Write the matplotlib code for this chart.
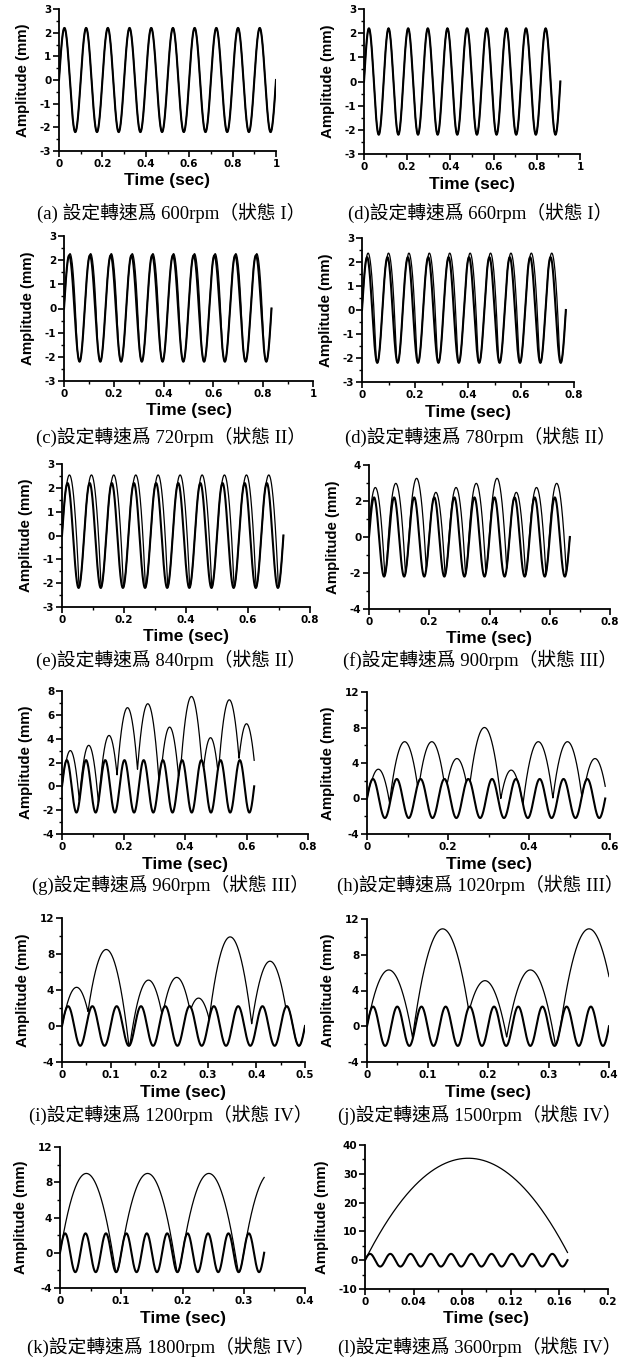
import numpy as np
import matplotlib
matplotlib.use("Agg")
import matplotlib.pyplot as plt
from matplotlib.ticker import MultipleLocator, FuncFormatter

# ---------------- data ----------------
rpm = [600, 660, 720, 780, 840, 900, 960, 1020, 1200, 1500, 1800, 3600]
letters = ["(a) ", "(d)", "(c)", "(d)", "(e)", "(f)",
           "(g)", "(h)", "(i)", "(j)", "(k)", "(l)"]
states = ["I", "I", "II", "II", "II", "III", "III", "III", "IV", "IV", "IV", "IV"]

input_amp = 2.2          # mm, amplitude of the table motion
n_cycles = 10            # cycles shown in every panel
fall_coef = 4905.0       # mm/s^2, curvature of the free-flight arcs (panel l)

# response: flight arcs, peak times (s) and peak heights (mm)
peak_t = {
    600: [], 660: [],
    720: [0.024, 0.107, 0.190, 0.274, 0.357, 0.440, 0.524, 0.607, 0.690, 0.774],
    780: [0.023, 0.100, 0.177, 0.254, 0.331, 0.408, 0.485, 0.562, 0.639, 0.716],
    840: [0.024, 0.095, 0.167, 0.238, 0.310, 0.381, 0.452, 0.524, 0.595, 0.667],
    900: [0.021, 0.089, 0.158, 0.222, 0.289, 0.356, 0.425, 0.489, 0.556, 0.623],
    960: [0.027, 0.087, 0.153, 0.213, 0.279, 0.350, 0.421, 0.483, 0.544, 0.600],
    1020: [0.028, 0.093, 0.160, 0.222, 0.290, 0.356, 0.423, 0.495, 0.563],
    1200: [0.030, 0.091, 0.178, 0.236, 0.281, 0.346, 0.428],
    1500: [0.036, 0.125, 0.195, 0.270, 0.367],
    1800: [0.043, 0.143, 0.243, 0.343],
    3600: [0.085],
}
peak_h = {
    600: [], 660: [],
    720: [2.27] * 10,
    780: [2.37] * 10,
    840: [2.54] * 10,
    900: [2.75, 2.98, 3.26, 2.48, 2.75, 2.98, 3.26, 2.48, 2.75, 2.98],
    960: [3.0, 3.44, 4.27, 6.6, 6.93, 4.97, 7.54, 4.08, 7.26, 5.25],
    1020: [3.3, 6.4, 6.4, 4.5, 8.0, 3.2, 6.4, 6.4, 4.5],
    1200: [4.3, 8.5, 5.1, 5.4, 3.1, 9.9, 7.2],
    1500: [6.3, 10.9, 5.1, 6.3, 10.9],
    1800: [9.0, 9.0, 9.0, 9.0],
    3600: [35.4],
}

x_max = [1, 1, 1, 0.8, 0.8, 0.8, 0.8, 0.6, 0.5, 0.4, 0.4, 0.2]
x_major = [0.2, 0.2, 0.2, 0.2, 0.2, 0.2, 0.2, 0.2, 0.1, 0.1, 0.1, 0.04]
y_lim = [(-3, 3), (-3, 3), (-3, 3), (-3, 3), (-3, 3), (-4, 4),
         (-4, 8), (-4, 12), (-4, 12), (-4, 12), (-4, 12), (-10, 40)]
y_major = [1, 1, 1, 1, 1, 2, 2, 4, 4, 4, 4, 10]

# ---------------- layout (pixels of the 625x1358 page) ----------------
W, H = 625, 1358
boxes = [(59, 276, 9, 151), (364, 580, 9, 154),
         (64, 313, 236, 381), (362, 574, 238, 382),
         (62, 310, 464, 607), (369, 610, 465, 609),
         (62, 308, 691, 834), (367, 610, 692, 834),
         (62, 305, 918, 1062), (367, 609, 919, 1062),
         (60, 305, 1147, 1288), (365, 608, 1145, 1289)]
caption_y = [213, 437, 660, 885, 1115, 1347]
caption_x = [171, 480]

sans = ["Liberation Sans", "DejaVu Sans"]
tick_font = ["DejaVu Sans"]
cap_font = ["Liberation Serif", "Noto Sans CJK TC", "DejaVu Sans"]

fig = plt.figure(figsize=(W / 100, H / 100), dpi=100)
fig.patch.set_facecolor("white")

fmt = FuncFormatter(lambda v, p: ("%g" % round(v, 6)))

for i, r in enumerate(rpm):
    x0, x1, y0, y1 = boxes[i]
    ax = fig.add_axes([x0 / W, 1 - y1 / H, (x1 - x0) / W, (y1 - y0) / H])
    f = r / 60.0
    t_end = n_cycles / f
    t = np.linspace(0, t_end, 4000)
    y_in = input_amp * np.sin(2 * np.pi * f * t)
    y_out = y_in.copy()
    for tp, hp in zip(peak_t[r], peak_h[r]):
        y_out = np.maximum(y_out, hp - fall_coef * (t - tp) ** 2)

    ax.plot(t, y_in, color="black", lw=1.5, solid_joinstyle="round")
    ax.plot(t, y_out, color="black", lw=0.9, solid_joinstyle="round")

    ax.set_xlim(0, x_max[i])
    ax.set_ylim(*y_lim[i])
    ax.xaxis.set_major_locator(MultipleLocator(x_major[i]))
    ax.xaxis.set_minor_locator(MultipleLocator(x_major[i] / 2))
    ax.yaxis.set_major_locator(MultipleLocator(y_major[i]))
    ax.yaxis.set_minor_locator(MultipleLocator(y_major[i] / 2))
    ax.xaxis.set_major_formatter(fmt)
    ax.yaxis.set_major_formatter(fmt)
    for s in ("top", "right"):
        ax.spines[s].set_visible(False)
    for s in ("left", "bottom"):
        ax.spines[s].set_linewidth(1.3)
    ax.tick_params(which="major", direction="out", length=4, width=1.2,
                   labelsize=7.5, pad=1.5)
    ax.tick_params(which="minor", direction="out", length=2.2, width=1.0)
    for lab in ax.get_xticklabels() + ax.get_yticklabels():
        lab.set_fontfamily(tick_font)
        lab.set_fontweight("bold")
    ax.set_xlabel("Time (sec)", fontsize=12.5, fontweight="bold",
                  fontfamily=sans, labelpad=3.5)
    ax.set_ylabel("Amplitude (mm)", fontsize=10.8, fontweight="bold",
                  fontfamily=sans, labelpad=7)
    ax.set_facecolor("white")

    col = i % 2
    row = i // 2
    cap = f"{letters[i]}設定轉速爲 {r}rpm（狀態 {states[i]}）"
    fig.text(caption_x[col] / W, 1 - caption_y[row] / H, cap,
             ha="center", va="center", fontsize=13.5, fontfamily=cap_font,
             fontweight="medium")

fig.savefig("out.png", dpi=100, facecolor="white")
